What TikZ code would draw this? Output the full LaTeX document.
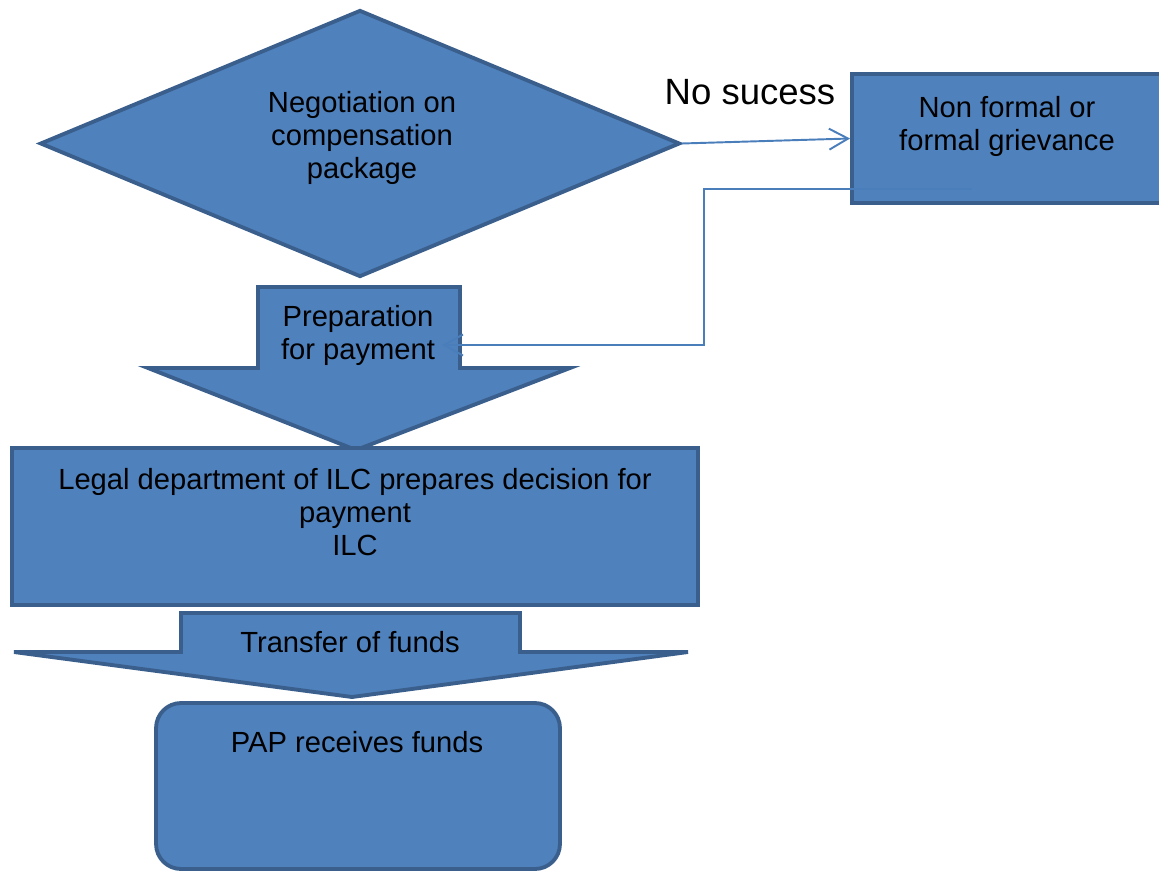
\documentclass[tikz,border=0pt]{standalone}
\usepackage{fontspec}
\setmainfont{Liberation Sans}
\usetikzlibrary{shapes.geometric, arrows.meta}
\definecolor{boxblue}{HTML}{4F81BD}
\definecolor{edgeblue}{HTML}{3A5F8C}
\definecolor{lineblue}{HTML}{4A7EBB}
\tikzset{block/.style={draw=edgeblue, fill=boxblue, line width=2.2pt, inner sep=0pt}}
\tikzset{txt/.style={align=center, inner sep=0pt, font=\fontsize{16.6}{18.8}\selectfont}}
\tikzset{link/.style={draw=lineblue, line width=1.1pt, -{Straight Barb[length=0.38cm, width=0.42cm]}}}

\begin{document}
\begin{tikzpicture}[x=0.02cm, y=-0.02cm]
\clip (0,0) rectangle (1159,872);

\node[block, diamond, minimum width=12.8cm, minimum height=5.34cm] (neg) at (360,143.5) {};
\node[block, minimum width=6.2cm, minimum height=2.58cm] (griev) at (1007,138.5) {};
\draw[block] (258,287) -- (460,287) -- (460,368) -- (570,368) -- (356,450) -- (148,368) -- (258,368) -- cycle;
\node[block, minimum width=13.72cm, minimum height=3.14cm] (legal) at (355,526.5) {};
\draw[block] (181,613) -- (520,613) -- (520,652) -- (688,652) -- (352,697) -- (14,652) -- (181,652) -- cycle;
\node[block, rounded corners=0.5cm, minimum width=8.08cm, minimum height=3.32cm] (pap) at (358,786) {};

\node[txt] (negtext) at (362,138) {Negotiation on\\compensation\\package};
\node[inner sep=0pt, font=\fontsize{20.8}{24}\selectfont] (nosuc) at (750,92) {No sucess};
\node[txt] (grievtext) at (1007,126) {Non formal or\\formal grievance};
\node[txt] (preptext) at (358,335) {Preparation\\for payment};
\node[txt] (legaltext) at (355,512.5) {Legal department of ILC prepares decision for\\payment\\ILC};
\node[txt] (transtext) at (350,642) {Transfer of funds};
\node[txt] (paptext) at (357,742) {PAP receives funds};

\coordinate (back) at (972,189);
\coordinate (prepin) at (442,345);

\draw[link] (neg.east) -- (griev.west);
\draw[link] (back) -- (704,189) |- (prepin);
\end{tikzpicture}
\end{document}
